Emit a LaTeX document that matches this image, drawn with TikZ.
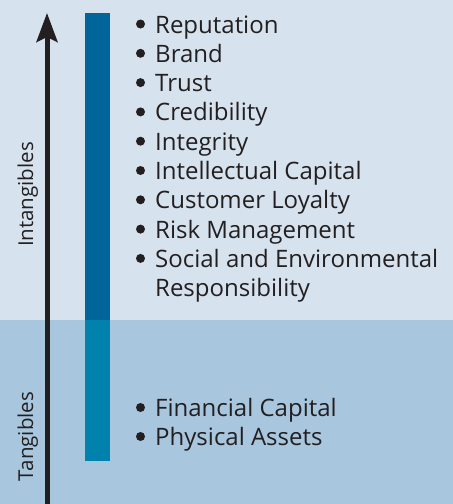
\documentclass[tikz,border=0pt]{standalone}
\usepackage{fontspec}
\setmainfont{Open Sans}
\usetikzlibrary{arrows.meta}
\definecolor{intbg}{RGB}{214,226,238}
\definecolor{tanbg}{RGB}{168,198,222}
\definecolor{intbar}{RGB}{0,102,153}
\definecolor{tanbar}{RGB}{0,130,173}
\definecolor{ink}{RGB}{35,31,32}
\begin{document}
\begin{tikzpicture}[x=1pt,y=-1pt,
  itemtext/.style={anchor=base west,inner sep=0pt,text=ink,font=\fontsize{24}{28}\selectfont},
  sidelabel/.style={anchor=base,rotate=90,inner sep=0pt,text=ink,font=\fontsize{20.5}{22}\selectfont},
  dot/.style={fill=ink,draw=none},
  axis/.style={line width=5pt,draw=ink,-{Stealth[length=29pt,width=21pt,inset=5pt]}}]
  \useasboundingbox (0,0) rectangle (453,504);
  % two bands
  \fill[intbg] (0,0) rectangle (453,320);
  \fill[tanbg] (0,320) rectangle (453,504);
  % colour bar
  \fill[intbar] (85,13) rectangle (110,320);
  \fill[tanbar] (85,320) rectangle (110,461);
  % axis arrow
  \coordinate (axbot) at (47,504);
  \coordinate (axtop) at (47,13);
  \draw[axis] (axbot) -- (axtop);
  % side labels
  \node[sidelabel] (intl) at (33,194.5) {Intangibles};
  \node[sidelabel] (tanl) at (33,436.5) {Tangibles};
  % intangible items
  \foreach \t [count=\i] in {Reputation,Brand,Trust,Credibility,Integrity,Intellectual Capital,Customer Loyalty,Risk Management,Social and Environmental}{
    \node[itemtext] (int\i) at (155,{33+(\i-1)*29.3}) {\t};
    \fill[dot] (140.5,{24+(\i-1)*29.3}) circle (4.5);
  }
  \node[itemtext] (int10) at (155,296.5) {Responsibility};
  % tangible items
  \node[itemtext] (tan1) at (155,416.5) {Financial Capital};
  \fill[dot] (140.5,407.5) circle (4.5);
  \node[itemtext] (tan2) at (155,445.5) {Physical Assets};
  \fill[dot] (140.5,436.5) circle (4.5);
\end{tikzpicture}
\end{document}
